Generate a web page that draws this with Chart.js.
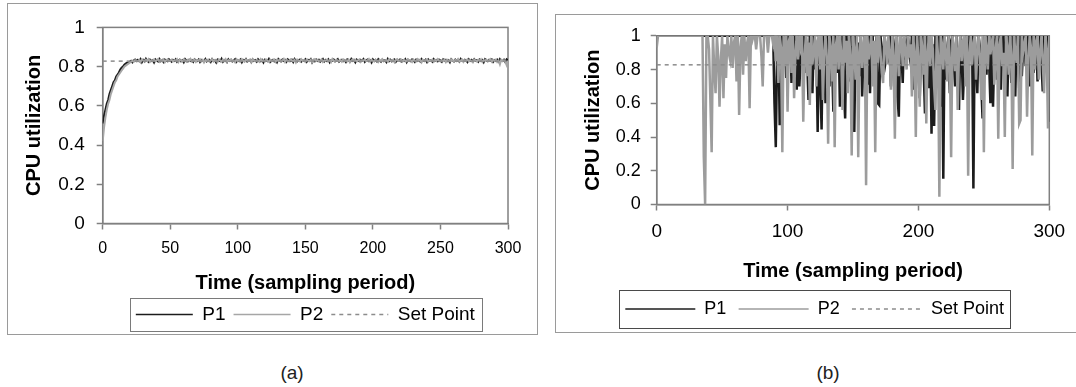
<!DOCTYPE html>
<html>
<head>
<meta charset="utf-8">
<title>CPU utilization</title>
<script src="https://cdn.jsdelivr.net/npm/chart.js@4/dist/chart.umd.min.js"></script>
<style>
  html, body { margin: 0; padding: 0; background: #fff; }
  body { width: 1076px; height: 387px; position: relative; overflow: hidden;
         font-family: "Liberation Sans", Arial, sans-serif; }
  .frame { position: absolute; border: 1px solid #9a9a9a; box-sizing: border-box; }
  #frameA { left: 7px; top: 3px; width: 531px; height: 332px; }
  #frameB { left: 555px; top: 14px; width: 530px; height: 319px; }
  canvas { position: absolute; }
  #chartA { left: 8px; top: 4px; }
  #chartB { left: 556px; top: 15px; }
  .caption { position: absolute; top: 362px; width: 60px; text-align: center; font-size: 19px; color: #222; }
</style>
</head>
<body>
<div class="frame" id="frameA"></div>
<div class="frame" id="frameB"></div>
<canvas id="chartA" width="529" height="330"></canvas>
<canvas id="chartB" width="520" height="330"></canvas>
<div class="caption" style="left:262px">(a)</div>
<div class="caption" style="left:798px">(b)</div>

<script>
// sampling periods 0..300
const time = Array.from({ length: 301 }, (_, i) => i);
const seriesNames = ['P1', 'P2', 'Set Point'];
const setPoint = 0.828;

// (a) both processors settle on the set point
const p1A = [
  0.51,0.55,0.58,0.61,0.63,0.66,0.68,0.70,0.72,0.73,0.75,0.76,0.77,0.785,0.795,0.80,0.81,0.815,0.82,0.82,0.825,0.83,0.822,0.831,0.836,0.829,
  0.835,0.828,0.838,0.822,0.834,0.826,0.840,0.830,0.824,0.836,0.829,0.833,0.821,0.837,0.831,0.826,0.839,0.828,0.834,0.823,0.836,0.830,0.827,0.838,0.832,
  0.825,0.834,0.829,0.837,0.824,0.831,0.836,0.827,0.833,0.822,0.838,0.830,0.826,0.835,0.829,0.833,0.824,0.837,0.831,0.828,0.836,0.823,0.834,0.830,0.827,
  0.839,0.826,0.832,0.835,0.824,0.838,0.829,0.833,0.821,0.836,0.830,0.827,0.840,0.825,0.834,0.831,0.823,0.837,0.829,0.835,0.826,0.832,0.838,0.824,0.833,
  0.828,0.836,0.822,0.834,0.830,0.839,0.826,0.831,0.835,0.823,0.837,0.829,0.833,0.825,0.838,0.830,0.827,0.834,0.821,0.836,0.832,0.828,0.839,0.824,0.831,
  0.835,0.827,0.833,0.822,0.838,0.830,0.826,0.836,0.829,0.834,0.824,0.837,0.831,0.828,0.835,0.823,0.839,0.830,0.826,0.833,0.836,0.825,0.832,0.829,0.837,
  0.824,0.834,0.830,0.838,0.821,0.833,0.827,0.836,0.829,0.835,0.825,0.831,0.839,0.826,0.834,0.828,0.837,0.822,0.833,0.830,0.836,0.827,0.832,0.838,0.825,
  0.831,0.835,0.828,0.833,0.823,0.837,0.830,0.826,0.839,0.829,0.834,0.822,0.836,0.831,0.827,0.835,0.830,0.838,0.824,0.832,0.836,0.828,0.833,0.821,0.837,
  0.829,0.834,0.826,0.838,0.831,0.825,0.836,0.830,0.833,0.823,0.839,0.828,0.835,0.827,0.832,0.837,0.824,0.834,0.830,0.836,0.826,0.833,0.829,0.838,0.822,
  0.835,0.830,0.827,0.837,0.832,0.824,0.836,0.829,0.834,0.826,0.839,0.831,0.828,0.835,0.823,0.837,0.830,0.833,0.825,0.838,0.829,0.834,0.827,0.836,0.831,
  0.824,0.837,0.830,0.835,0.828,0.833,0.822,0.838,0.831,0.826,0.836,0.829,0.834,0.825,0.839,0.830,0.827,0.835,0.832,0.823,0.837,0.829,0.834,0.826,0.838,
  0.830,0.833,0.825,0.836,0.829,0.834,0.822,0.838,0.831,0.827,0.835,0.830,0.837,0.824,0.833,0.829,0.836,0.826,0.839,0.831,0.828,0.835,0.823,0.837,0.832
];
const p2A = [
  0.42,0.49,0.54,0.58,0.61,0.63,0.66,0.68,0.70,0.72,0.73,0.75,0.76,0.77,0.78,0.79,0.80,0.805,0.81,0.815,0.82,0.825,0.83,0.824,0.833,0.827,
  0.828,0.834,0.823,0.837,0.831,0.826,0.835,0.829,0.838,0.824,0.833,0.830,0.836,0.827,0.832,0.839,0.825,0.834,0.829,0.836,0.822,0.833,0.837,0.828,0.831,
  0.836,0.826,0.833,0.829,0.838,0.823,0.835,0.830,0.827,0.837,0.832,0.825,0.834,0.829,0.839,0.826,0.831,0.836,0.824,0.833,0.830,0.837,0.827,0.834,0.821,
  0.833,0.829,0.836,0.825,0.832,0.838,0.827,0.834,0.830,0.823,0.837,0.831,0.826,0.835,0.829,0.838,0.824,0.833,0.830,0.836,0.827,0.832,0.822,0.837,0.829,
  0.834,0.826,0.838,0.830,0.825,0.836,0.831,0.828,0.835,0.822,0.837,0.830,0.827,0.834,0.831,0.824,0.838,0.829,0.833,0.826,0.836,0.830,0.825,0.835,0.828,
  0.832,0.837,0.824,0.834,0.829,0.836,0.827,0.831,0.839,0.823,0.835,0.830,0.826,0.837,0.832,0.828,0.834,0.821,0.836,0.831,0.827,0.838,0.829,0.833,0.825,
  0.836,0.830,0.827,0.835,0.822,0.833,0.838,0.829,0.834,0.826,0.831,0.837,0.824,0.832,0.830,0.836,0.828,0.834,0.823,0.839,0.830,0.826,0.835,0.831,0.828,
  0.834,0.825,0.837,0.830,0.833,0.827,0.836,0.822,0.831,0.838,0.829,0.834,0.826,0.832,0.837,0.824,0.833,0.830,0.836,0.828,0.831,0.839,0.825,0.834,0.829,
  0.826,0.836,0.831,0.823,0.835,0.829,0.838,0.827,0.832,0.834,0.825,0.837,0.830,0.828,0.835,0.822,0.833,0.838,0.829,0.831,0.836,0.826,0.834,0.830,0.827,
  0.837,0.829,0.833,0.824,0.836,0.831,0.827,0.838,0.830,0.834,0.822,0.835,0.829,0.832,0.837,0.826,0.833,0.830,0.836,0.825,0.834,0.828,0.838,0.831,0.826,
  0.833,0.829,0.836,0.823,0.835,0.830,0.827,0.837,0.832,0.825,0.834,0.829,0.838,0.826,0.831,0.836,0.824,0.833,0.830,0.837,0.827,0.834,0.829,0.822,0.836,
  0.831,0.826,0.835,0.829,0.837,0.824,0.833,0.830,0.836,0.828,0.832,0.838,0.825,0.834,0.829,0.836,0.823,0.831,0.812,0.835,0.829,0.833,0.826,0.808,0.830
];

// (b) saturated processors, heavy oscillation
const p1B = [
  1,1,1,1,1,1,1,1,1,1,  1,1,1,1,1,1,1,1,1,1,  1,1,1,1,1,1,1,1,1,1,
  1,1,1,1,1,1,1,1,1,1,  1,1,1,1,1,1,1,1,1,1,  1,1,1,1,1,1,1,1,1,1,
  1,1,1,1,1,1,1,1,1,1,  1,1,1,1,1,1,1,1,1,1,  1,1,1,1,1,1,1,1,1,1,
  0.6,0.34,0.9,1,0.47,1,0.82,1,0.93,0.75,
  1,0.88,1,0.72,0.89,1,0.95,0.68,1,0.70,
  0.86,0.9,1,0.78,1,0.84,0.62,1,0.91,0.66,
  1,0.8,0.95,0.43,1,0.74,0.445,1,0.88,0.60,
  1,0.92,0.7,1,0.85,0.55,1,0.96,0.78,1,
  0.58,0.9,1,0.69,0.51,1,0.87,0.73,1,0.62,
  0.94,0.43,1,0.8,0.96,0.76,1,0.64,0.9,1,
  0.83,0.71,1,0.66,0.95,1,0.79,0.88,1,0.6,
  0.59,1,0.92,0.77,1,0.85,0.9,0.87,1,0.7,
  1,0.81,0.93,1,0.64,0.52,1,0.9,0.72,1,
  0.86,0.95,1,0.89,0.84,1,0.68,0.91,1,0.75,
  1,0.63,0.93,1,0.8,0.54,1,0.88,0.69,1,
  0.42,0.95,0.465,1,0.78,0.9,1,0.58,1,0.153,
  1,0.74,0.92,1,0.66,0.97,1,0.85,0.70,1,
  0.79,0.56,1,0.9,0.62,0.82,1,0.95,0.73,1,
  0.88,1,0.095,1,0.86,0.66,1,0.93,0.71,0.51,
  1,0.9,0.77,1,0.84,0.6,1,0.58,0.92,1,
  0.74,0.89,1,0.68,0.95,1,0.8,0.87,0.64,1,
  0.91,0.72,1,0.83,0.64,1,0.9,0.69,1,0.76,
  0.93,1,0.82,0.88,1,0.7,0.95,1,0.78,0.86,
  1,0.73,0.91,1,0.84,0.67,1,0.89,0.8,1,
  0.49
];
const p2B = [
  0.93,1,1,1,1,1,1,1,1,1,
  1,1,1,1,1,1,1,1,1,1,
  1,1,1,1,1,1,1,1,1,1,
  1,1,1,1,1,1,0.28,0,1,1,
  0.92,0.62,0.31,1,0.8,0.66,1,0.88,0.58,0.85,
  1,0.63,0.95,0.75,1,0.9,0.86,1,0.81,0.96,
  1,0.73,1,0.53,0.93,1,0.77,1,0.85,0.95,
  1,0.57,1,0.97,1,1,0.92,1,1,1,
  0.88,0.70,1,1,1,0.9,1,1,1,0.95,
  1,0.85,1,0.72,1,0.93,0.31,1,0.82,1,
  0.55,0.97,1,0.78,1,0.63,0.9,1,0.86,1,
  0.94,1,0.49,0.88,1,0.76,0.96,0.59,1,0.83,
  0.92,1,0.7,0.97,1,0.8,1,0.62,0.9,1,
  0.87,0.36,1,0.93,0.73,1,0.34,0.95,1,0.8,
  1,0.9,0.56,1,0.84,0.97,0.66,1,0.88,0.29,
  1,0.92,0.74,1,0.28,0.9,1,0.81,0.95,1,
  0.114,1,0.86,0.93,1,0.7,0.97,0.31,1,0.84,
  1,0.9,0.78,0.72,1,0.96,0.83,1,0.9,0.68,
  1,0.87,0.39,1,0.93,0.76,1,0.98,0.82,1,
  0.91,0.8,1,0.87,0.95,0.64,1,0.9,0.40,1,
  0.85,0.58,1,0.93,0.77,1,0.48,0.9,1,0.82,
  1,0.92,0.7,0.56,1,0.88,0.046,1,0.95,0.8,
  1,0.9,0.73,1,0.86,0.28,1,0.94,0.79,1,
  0.56,0.92,1,0.85,0.97,1,0.7,1,0.17,0.9,
  1,0.83,0.95,1,0.74,0.9,1,0.87,0.62,1,
  0.31,1,0.93,0.8,1,0.89,0.96,1,0.71,0.92,
  1,0.39,0.95,1,0.82,0.9,0.40,1,0.93,0.77,
  1,0.88,0.21,1,0.91,0.84,1,0.48,0.5,1,
  0.9,0.95,1,0.52,0.86,1,0.93,0.29,1,0.8,
  0.97,1,0.74,0.9,1,0.85,0.66,1,0.92,0.45,
  1
];

Chart.defaults.font.family = '"Liberation Sans", Arial, sans-serif';
Chart.defaults.color = '#000';

const toPoints = vals => vals.map((v, i) => ({ x: time[i], y: v }));
const setPointLine = [{ x: time[0], y: setPoint }, { x: time[time.length - 1], y: setPoint }];

// gray box round the plot area
const plotFrame = {
  id: 'plotFrame',
  beforeDatasetsDraw(chart) {
    const { ctx, chartArea: a } = chart;
    ctx.save();
    ctx.strokeStyle = '#808080';
    ctx.lineWidth = 1.5;
    ctx.strokeRect(a.left, a.top, a.right - a.left, a.bottom - a.top);
    ctx.restore();
  }
};

// box round the legend row
const legendFrame = {
  id: 'legendFrame',
  afterDraw(chart, args, opts) {
    const boxes = chart.legend && chart.legend.legendHitBoxes;
    if (!boxes || !boxes.length) return;
    const left = Math.min(...boxes.map(b => b.left)) - opts.padL;
    const right = Math.max(...boxes.map(b => b.left + b.width)) + opts.padR;
    const top = Math.min(...boxes.map(b => b.top)) - opts.padT;
    const bottom = Math.max(...boxes.map(b => b.top + b.height)) + opts.padB;
    const ctx = chart.ctx;
    ctx.save();
    ctx.strokeStyle = opts.color;
    ctx.lineWidth = 1;
    ctx.strokeRect(Math.round(left) + 0.5, Math.round(top) + 0.5, Math.round(right - left), Math.round(bottom - top));
    ctx.restore();
  }
};

// legend samples keep the dataset's dash and colour
function legendLabels(chart) {
  const items = Chart.defaults.plugins.legend.labels.generateLabels(chart);
  items.forEach(it => {
    const ds = chart.data.datasets[it.datasetIndex];
    it.lineDash = ds.borderDash || [];
    it.lineWidth = 1.5;
    it.strokeStyle = ds.borderColor;
  });
  return items.sort((a, b) => a.datasetIndex - b.datasetIndex);
}

const tickText = v => String(Number(v.toFixed(2)));

function makeDatasets(p1, p2, width, grey) {
  return [
    { label: seriesNames[0], data: toPoints(p1), borderColor: '#1c1c1c', borderWidth: width, order: 3 },
    { label: seriesNames[1], data: toPoints(p2), borderColor: grey, borderWidth: width, order: 2 },
    { label: seriesNames[2], data: setPointLine, borderColor: '#8c8c8c', borderWidth: 1.5, borderDash: [4, 4], order: 1 }
  ];
}

function axisStyle() {
  return {
    border: { color: '#808080', width: 1.5 },
    grid: { drawOnChartArea: false, drawTicks: true, tickLength: 6, tickColor: '#808080', tickWidth: 1.5 }
  };
}

// chart (a)
new Chart(document.getElementById('chartA'), {
  type: 'line',
  data: { datasets: makeDatasets(p1A, p2A, 2, '#a6a6a6') },
  options: {
    responsive: false,
    animation: false,
    elements: { point: { radius: 0 }, line: { tension: 0 } },
    layout: { padding: { left: 0, right: 29, top: 15, bottom: 0 } },
    scales: {
      x: {
        type: 'linear', min: 0, max: 300,
        ...axisStyle(),
        ticks: { stepSize: 50, font: { size: 16 }, padding: 9.4, maxRotation: 0, callback: tickText },
        title: { display: true, text: 'Time (sampling period)', font: { size: 20, weight: 'bold' }, padding: { top: 0, bottom: 1.5 } },
        afterFit: s => { s.height = 73.5; }
      },
      y: {
        min: 0, max: 1,
        ...axisStyle(),
        ticks: { stepSize: 0.2, font: { size: 19 }, padding: 12, callback: tickText },
        title: { display: true, text: 'CPU utilization', font: { size: 20, weight: 'bold' }, padding: { top: 14.5, bottom: 0 } },
        afterFit: s => { s.width = 94.7; }
      }
    },
    plugins: {
      tooltip: { enabled: false },
      legend: {
        position: 'bottom',
        fullSize: false,
        labels: {
          usePointStyle: true, pointStyle: 'line', pointStyleWidth: 57,
          padding: 8, font: { size: 19 }, color: '#000',
          generateLabels: legendLabels
        }
      },
      legendFrame: { color: '#7a7a7a', padL: 6, padR: 7, padT: 7, padB: 6.5 }
    }
  },
  plugins: [plotFrame, legendFrame]
});

// chart (b)
new Chart(document.getElementById('chartB'), {
  type: 'line',
  data: { datasets: makeDatasets(p1B, p2B, 2.5, '#9c9c9c') },
  options: {
    responsive: false,
    animation: false,
    elements: { point: { radius: 0 }, line: { tension: 0 } },
    layout: { padding: { left: 24, right: 26.7, top: 18.5, bottom: 17 } },
    scales: {
      x: {
        type: 'linear', min: 0, max: 300,
        ...axisStyle(),
        ticks: { stepSize: 100, font: { size: 19 }, padding: 10, maxRotation: 0, callback: tickText },
        title: { display: true, text: 'Time (sampling period)', font: { size: 20, weight: 'bold' }, padding: { top: 0, bottom: 4 } },
        afterFit: s => { s.height = 83.2; }
      },
      y: {
        min: 0, max: 1,
        ...axisStyle(),
        ticks: { stepSize: 0.2, font: { size: 18 }, padding: 10, callback: tickText },
        title: { display: true, text: 'CPU utilization', font: { size: 20, weight: 'bold' }, padding: { top: 1, bottom: 0 } },
        afterFit: s => { s.width = 76.7; }
      }
    },
    plugins: {
      tooltip: { enabled: false },
      legend: {
        position: 'bottom',
        fullSize: true,
        labels: {
          usePointStyle: true, pointStyle: 'line', pointStyleWidth: 70,
          padding: 12.3, font: { size: 18 }, color: '#000',
          generateLabels: legendLabels
        }
      },
      legendFrame: { color: '#4a4a4a', padL: 6.5, padR: 6, padT: 10, padB: 9.7 }
    }
  },
  plugins: [plotFrame, legendFrame]
});
</script>
</body>
</html>
